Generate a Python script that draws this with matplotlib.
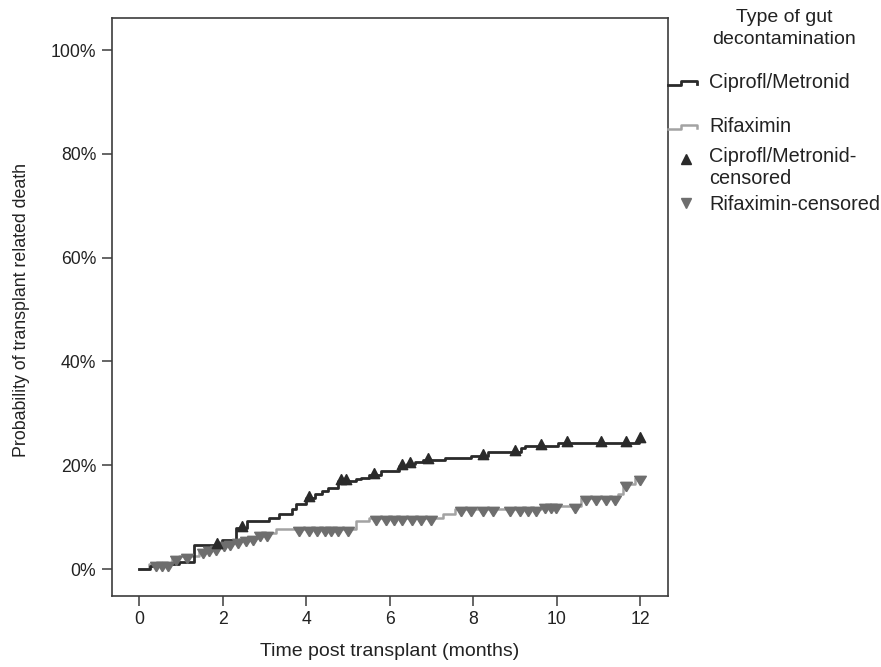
import numpy as np
import matplotlib
matplotlib.use("Agg")
import matplotlib.pyplot as plt
from matplotlib.lines import Line2D

plt.rcParams["font.family"] = ["Liberation Sans", "DejaVu Sans"]

# ── data (months, cumulative %) ────────────────────────────────────────────
cm_time = [0, 0.25, 0.60, 0.95, 1.31, 1.98, 2.31, 2.58, 3.10, 3.34, 3.65, 3.75,
           3.99, 4.22, 4.37, 4.53, 4.77, 5.18, 5.32, 5.49, 5.80, 6.21, 6.40,
           6.61, 6.80, 7.33, 7.95, 8.35, 9.14, 9.24, 10.02, 11.96, 12.0]
cm_pct = [0, 0.5, 0.9, 1.3, 4.6, 5.6, 7.9, 9.2, 9.8, 10.6, 11.5, 12.5,
          13.7, 14.4, 15.0, 15.6, 16.9, 17.3, 17.5, 18.2, 18.8, 19.8, 20.3,
          20.6, 21.0, 21.4, 21.7, 22.5, 23.3, 23.8, 24.3, 25.0, 25.0]
cm_censored = [1.86, 2.46, 4.06, 4.82, 4.96, 5.61, 6.28, 6.49, 6.92, 8.23,
               9.00, 9.62, 10.24, 11.05, 11.65, 11.98]

rf_time = [0, 0.24, 0.79, 0.95, 1.43, 1.60, 1.74, 1.91, 2.08, 2.22, 2.39, 2.63,
           2.86, 3.10, 3.27, 5.18, 5.49, 7.28, 7.57, 9.62, 10.57, 11.46,
           11.58, 11.86, 12.0]
rf_pct = [0, 1.0, 2.1, 2.5, 3.5, 3.8, 4.1, 4.8, 5.0, 5.4, 5.8, 6.0,
          6.7, 6.9, 7.7, 9.2, 9.8, 10.6, 11.5, 12.1, 13.7, 14.4,
          16.3, 17.5, 17.5]
rf_censored = [0.40, 0.55, 0.70, 0.88, 1.15, 1.52, 1.68, 1.84, 2.02, 2.18,
               2.36, 2.55, 2.72, 2.90, 3.05, 3.82, 4.06, 4.25, 4.46, 4.60,
               4.77, 5.00, 5.66, 5.90, 6.10, 6.30, 6.52, 6.75, 6.99, 7.71,
               7.95, 8.23, 8.47, 8.88, 9.12, 9.31, 9.50, 9.71, 9.86, 9.98,
               10.43, 10.69, 10.93, 11.17, 11.38, 11.65, 11.98]

x_ticks = [0, 2, 4, 6, 8, 10, 12]
y_ticks = [0, 20, 40, 60, 80, 100]

BLACK = "#2a2a2a"
LGRAY = "#a3a3a3"
MGRAY = "#6e6e6e"
SPINE = "#3c3c3c"


def step_value(times, vals, t):
    i = np.searchsorted(times, t, side="right") - 1
    return np.asarray(vals)[i]


# triangle markers sitting on / hanging from the curve
up_tri = [(0, 1), (-0.75, -0.45), (0.75, -0.45), (0, 1)]
down_tri = [(0, -1), (-0.8, 0.3), (0.8, 0.3), (0, -1)]

W, H = 881, 667
fig = plt.figure(figsize=(W / 100, H / 100), dpi=100)
ax = fig.add_axes([111.5 / W, 1 - 596 / H, (668 - 111.5) / W, (596 - 18) / H])

ax.step(rf_time, rf_pct, where="post", color=LGRAY, lw=1.8, zorder=2)
ax.step(cm_time, cm_pct, where="post", color=BLACK, lw=2.0, zorder=3)
ax.plot(rf_censored, step_value(rf_time, rf_pct, rf_censored), ls="none",
        marker=down_tri, ms=10.5, color=MGRAY, mec=MGRAY, zorder=4)
ax.plot(cm_censored, step_value(cm_time, cm_pct, cm_censored), ls="none",
        marker=up_tri, ms=10, color=BLACK, mec=BLACK, zorder=5)

ax.set_xlim(-0.663, 12.66)
ax.set_ylim(-5.2, 106.2)
ax.set_xticks(x_ticks)
ax.set_yticks(y_ticks)
ax.set_yticklabels([f"{v}%" for v in y_ticks])
ax.tick_params(direction="out", length=7, width=1.1, color=SPINE,
               labelsize=12.7, labelcolor="#222222", pad=4)
for s in ax.spines.values():
    s.set_color(SPINE)
    s.set_linewidth(1.2)

fig.text(390 / W, 1 - 652 / H, "Time post transplant (months)", ha="center",
         va="center", fontsize=14, color="#222222")
fig.text(22 / W, 1 - 310 / H, "Probability of transplant related death",
         ha="center", va="center", rotation=90, fontsize=12.8, color="#222222")

# ── legend (drawn by hand, SPSS style) ─────────────────────────────────────
def fx(x):
    return x / W


def fy(y):
    return 1 - y / H


fig.text(fx(784), fy(18), "Type of gut", ha="center", va="center", fontsize=14,
         color="#222222")
fig.text(fx(784), fy(39), "decontamination", ha="center", va="center",
         fontsize=14, color="#222222")

for y_lo, col, lw, label in [(85, BLACK, 2.0, "Ciprofl/Metronid"),
                             (129, LGRAY, 1.8, "Rifaximin")]:
    xs = [fx(668), fx(681), fx(681), fx(697), fx(697)]
    ys = [fy(y_lo), fy(y_lo), fy(y_lo - 4.5), fy(y_lo - 4.5), fy(y_lo - 1)]
    fig.add_artist(Line2D(xs, ys, color=col, lw=lw, transform=fig.transFigure))
    fig.text(fx(709), fy(y_lo - 2), label, ha="left", va="center",
             fontsize=14.3, color="#222222")

fig.add_artist(Line2D([fx(686)], [fy(159)], marker="^", ms=7.5, color=BLACK,
                      ls="none", transform=fig.transFigure))
fig.text(fx(709), fy(157), "Ciprofl/Metronid-", ha="left", va="center",
         fontsize=14.3, color="#222222")
fig.text(fx(709), fy(178), "censored", ha="left", va="center",
         fontsize=14.3, color="#222222")
fig.add_artist(Line2D([fx(686)], [fy(203)], marker="v", ms=7.5, color=MGRAY,
                      ls="none", transform=fig.transFigure))
fig.text(fx(709), fy(205), "Rifaximin-censored", ha="left", va="center",
         fontsize=14.3, color="#222222")

fig.savefig("out.png", dpi=100)
